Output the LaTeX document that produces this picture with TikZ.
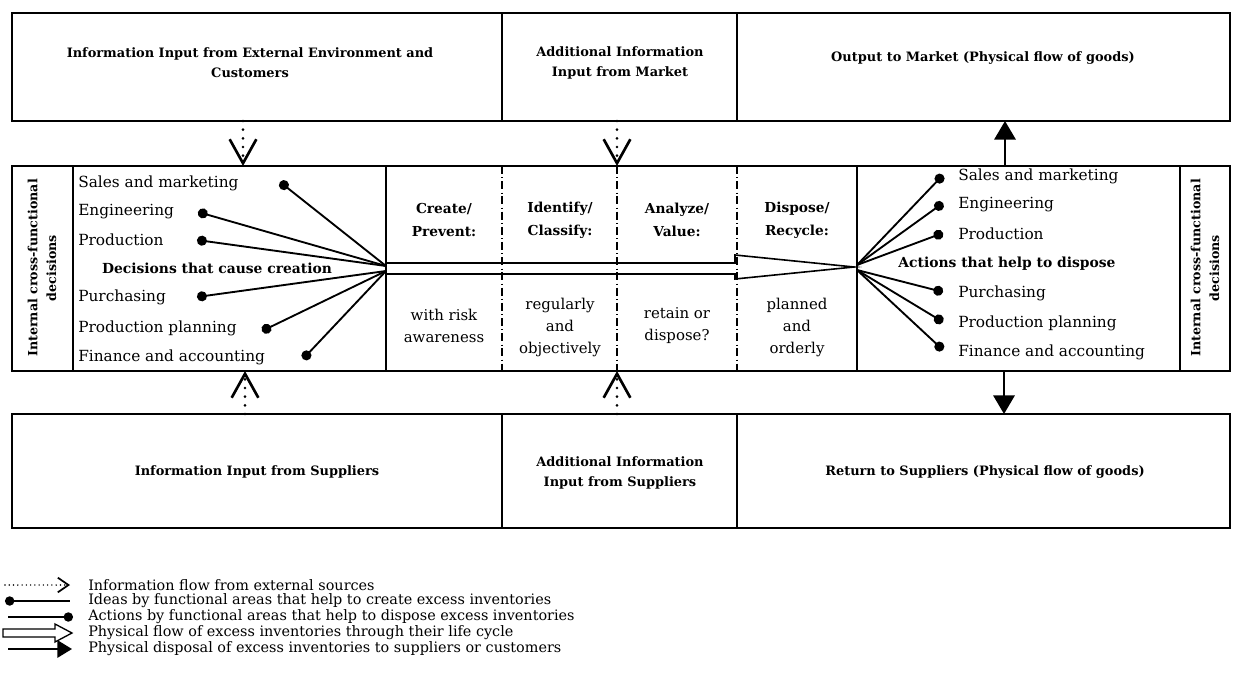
\documentclass[tikz,border=0pt]{standalone}
\usepackage{fontspec}
\setmainfont{DejaVu Serif}
\usepackage{tikz}
\usetikzlibrary{arrows.meta}
\usetikzlibrary{calc}
\tikzset{ frame/.style = {line width=1.6pt} }
\tikzset{ phase_sep/.style = {line width=1.6pt, dash pattern=on 6pt off 2.5pt on 0.4pt off 2.5pt} }
\tikzset{ head_txt/.style = {align=center, inner sep=0pt, font=\bfseries\fontsize{9.7}{15}\selectfont} }
\tikzset{ phase_head/.style = {align=center, inner sep=0pt, font=\bfseries\fontsize{10.3}{17}\selectfont} }
\tikzset{ phase_txt/.style = {align=center, inner sep=0pt, font=\fontsize{11.2}{16.5}\selectfont} }
\tikzset{ item_txt/.style = {anchor=west, inner sep=0pt, font=\fontsize{11.5}{12}\selectfont} }
\tikzset{ bold_item/.style = {inner sep=0pt, font=\bfseries\fontsize{10.4}{12}\selectfont} }
\tikzset{ side_txt/.style = {align=center, inner sep=0pt, rotate=90, font=\bfseries\fontsize{9.5}{14}\selectfont} }
\tikzset{ key_txt/.style = {anchor=west, inner sep=0pt, font=\fontsize{10.8}{11}\selectfont} }
\tikzset{ info_flow/.style = {line width=2.2pt, dash pattern=on 0pt off 6.5pt, line cap=round,
    -{Straight Barb[length=18pt, width=20pt, line width=2pt, line cap=butt]}} }
\tikzset{ goods_flow/.style = {line width=1.8pt, -{Triangle[length=14pt, width=16pt]}} }
\tikzset{ idea_line/.style = {line width=1.4pt, -{Circle[length=7.5pt]}} }

\begin{document}
\begin{tikzpicture}[x=0.75pt, y=-0.75pt]
    \useasboundingbox (0,0) rectangle (1234,677);

    % top row
    \draw[frame] (12,13) rectangle (1230,121);
    \draw[frame] (502,13) -- (502,121);
    \draw[frame] (737,13) -- (737,121);
    \node[head_txt] (ext_in) at (250,63) {Information Input from External Environment and\\Customers};
    \node[head_txt] (mkt_in) at (620,63) {Additional Information\\Input from Market};
    \node[head_txt] (mkt_out) at (983,58) {Output to Market (Physical flow of goods)};

    % middle row
    \draw[frame] (12,166) rectangle (1230,371);
    \foreach \x in {73,386,857,1180}
        \draw[frame] (\x,166) -- (\x,371);

    % life cycle arrow
    \draw[line width=1.2pt] (386,263) -- (735,263) -- (735,255) -- (854,267)
        -- (735,279) -- (735,274) -- (386,274) -- cycle;

    \foreach \x in {502,617,737}
        \draw[phase_sep] (\x,166) -- (\x,371);
    \node[side_txt] (side_l) at (42,268) {Internal cross-functional\\decisions};
    \node[side_txt] (side_r) at (1205,268) {Internal cross-functional\\decisions};

    \node[phase_head] (create) at (444,220) {Create/\\Prevent:};
    \node[phase_head] (ident) at (560,220) {Identify/\\Classify:};
    \node[phase_head] (analyze) at (677,220) {Analyze/\\Value:};
    \node[phase_head] (dispose) at (797,220) {Dispose/\\Recycle:};
    \node[phase_txt] (create_how) at (444,326) {with risk\\awareness};
    \node[phase_txt] (ident_how) at (560,327) {regularly\\and\\objectively};
    \node[phase_txt] (analyze_how) at (677,326) {retain or\\dispose?};
    \node[phase_txt] (dispose_how) at (797,327) {planned\\and\\orderly};

    % decisions that cause creation
    \coordinate (hub_l_up) at (386,266);
    \coordinate (hub_l_dn) at (386,271);
    \node[item_txt] (l_sales) at (78,183) {Sales and marketing};
    \node[item_txt] (l_eng) at (78,212) {Engineering};
    \node[item_txt] (l_prod) at (78,240) {Production};
    \node[bold_item] (l_cause) at (217,268) {Decisions that cause creation};
    \node[item_txt] (l_purch) at (78,297) {Purchasing};
    \node[item_txt] (l_plan) at (78,328) {Production planning};
    \node[item_txt] (l_fin) at (78,357) {Finance and accounting};
    \coordinate (l_sales_dot) at (280,182);
    \coordinate (l_eng_dot) at (198,212);
    \coordinate (l_prod_dot) at (197,240);
    \coordinate (l_purch_dot) at (197,297);
    \coordinate (l_plan_dot) at (262,331);
    \coordinate (l_fin_dot) at (303,359);
    \foreach \n in {sales,eng,prod}
        \draw[idea_line] (hub_l_up) -- (l_\n_dot);
    \foreach \n in {purch,plan,fin}
        \draw[idea_line] (hub_l_dn) -- (l_\n_dot);

    % actions that help to dispose
    \coordinate (hub_r_up) at (857,265);
    \coordinate (hub_r_dn) at (857,270);
    \node[item_txt] (r_sales) at (958,176) {Sales and marketing};
    \node[item_txt] (r_eng) at (958,205) {Engineering};
    \node[item_txt] (r_prod) at (958,234) {Production};
    \node[bold_item] (r_help) at (1007,264) {Actions that help to dispose};
    \node[item_txt] (r_purch) at (958,293) {Purchasing};
    \node[item_txt] (r_plan) at (958,323) {Production planning};
    \node[item_txt] (r_fin) at (958,352) {Finance and accounting};
    \coordinate (r_sales_dot) at (943,175);
    \coordinate (r_eng_dot) at (943,203);
    \coordinate (r_prod_dot) at (943,233);
    \coordinate (r_purch_dot) at (943,292);
    \coordinate (r_plan_dot) at (943,322);
    \coordinate (r_fin_dot) at (943,350);
    \foreach \n in {sales,eng,prod}
        \draw[idea_line] (hub_r_up) -- (r_\n_dot);
    \foreach \n in {purch,plan,fin}
        \draw[idea_line] (hub_r_dn) -- (r_\n_dot);

    % bottom row
    \draw[frame] (12,414) rectangle (1230,528);
    \draw[frame] (502,414) -- (502,528);
    \draw[frame] (737,414) -- (737,528);
    \node[head_txt] (sup_in) at (257,472) {Information Input from Suppliers};
    \node[head_txt] (sup_add) at (620,473) {Additional Information\\Input from Suppliers};
    \node[head_txt] (sup_ret) at (985,472) {Return to Suppliers (Physical flow of goods)};

    % flows between the rows
    \coordinate (ext_a) at (243,121);
    \coordinate (ext_b) at (243,166);
    \coordinate (mkt_a) at (617,121);
    \coordinate (mkt_b) at (617,166);
    \coordinate (out_a) at (1005,166);
    \coordinate (out_b) at (1005,121);
    \coordinate (sup_a) at (245,414);
    \coordinate (sup_b) at (245,371);
    \coordinate (add_a) at (617,414);
    \coordinate (add_b) at (617,371);
    \coordinate (ret_a) at (1004,371);
    \coordinate (ret_b) at (1004,414);
    \draw[info_flow] (ext_a) -- (ext_b);
    \draw[info_flow] (mkt_a) -- (mkt_b);
    \draw[info_flow] (sup_a) -- (sup_b);
    \draw[info_flow] (add_a) -- (add_b);
    \draw[goods_flow] (out_a) -- (out_b);
    \draw[goods_flow] (ret_a) -- (ret_b);

    % key
    \coordinate (k1_a) at (5,585);   \coordinate (k1_b) at (70,585);
    \coordinate (k2_a) at (5,601);   \coordinate (k2_b) at (70,601);
    \coordinate (k3_a) at (8,617);   \coordinate (k3_b) at (73,617);
    \coordinate (k5_a) at (8,649);   \coordinate (k5_b) at (72,649);
    \draw[line width=1.2pt, dash pattern=on 0pt off 3.2pt, line cap=round,
        -{Straight Barb[length=8pt, width=11pt, line width=1.3pt, line cap=butt]}] (k1_a) -- (k1_b);
    \draw[line width=1.4pt, {Circle[length=7pt]}-] (k2_a) -- (k2_b);
    \draw[line width=1.4pt, -{Circle[length=7pt]}] (k3_a) -- (k3_b);
    \draw[line width=1pt, fill=white] (3,629) -- (55,629) -- (55,624) -- (72,633)
        -- (55,642) -- (55,637) -- (3,637) -- cycle;
    \draw[line width=1.6pt, -{Triangle[length=11pt, width=13pt]}] (k5_a) -- (k5_b);
    \node[key_txt] (k1) at (88,585) {Information flow from external sources};
    \node[key_txt] (k2) at (88,601) {Ideas by functional areas that help to create excess inventories};
    \node[key_txt] (k3) at (88,617) {Actions by functional areas that help to dispose excess inventories};
    \node[key_txt] (k4) at (88,633) {Physical flow of excess inventories through their life cycle};
    \node[key_txt] (k5) at (88,649) {Physical disposal of excess inventories to suppliers or customers};
\end{tikzpicture}
\end{document}
